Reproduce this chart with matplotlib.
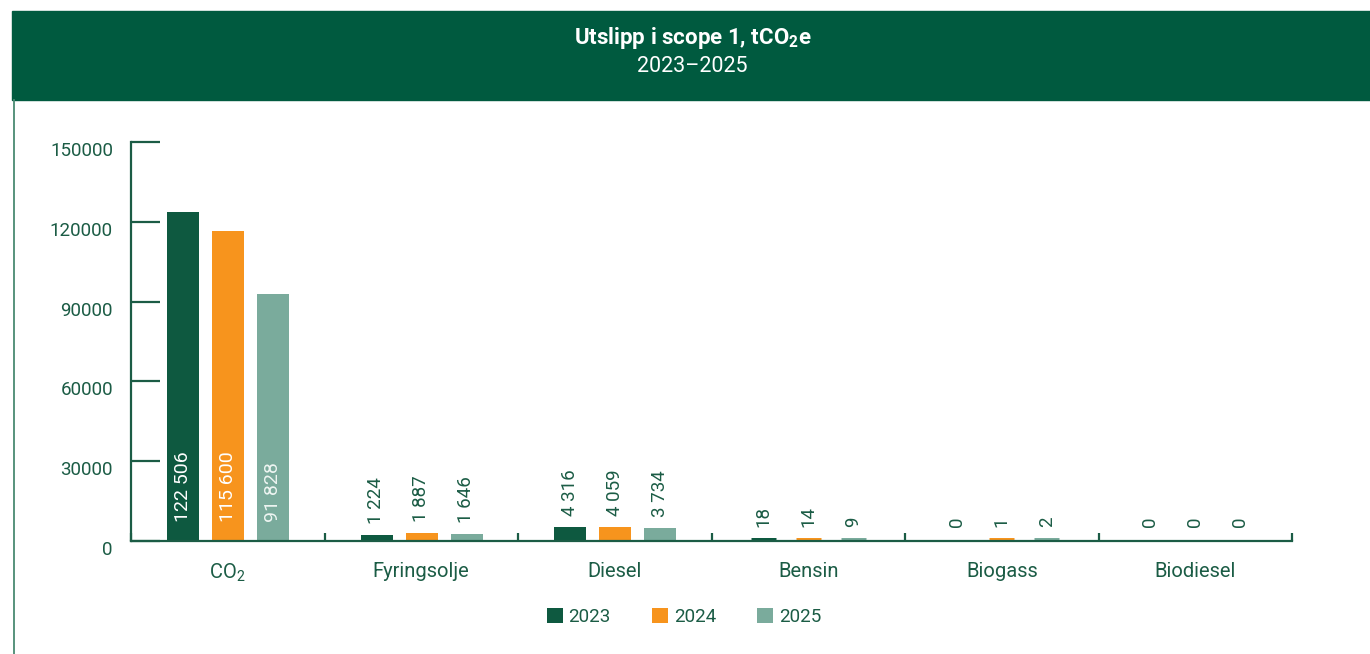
import matplotlib.pyplot as plt
from matplotlib.patches import Rectangle, Patch
from matplotlib.lines import Line2D
from matplotlib.transforms import ScaledTranslation
import numpy as np

# Data
categories = ['CO$_2$', 'Fyringsolje', 'Diesel', 'Bensin', 'Biogass', 'Biodiesel']
years = ['2023', '2024', '2025']
v2023 = [122506, 1224, 4316, 18, 0, 0]
v2024 = [115600, 1887, 4059, 14, 1, 0]
v2025 = [91828, 1646, 3734, 9, 2, 0]
yticks = [0, 30000, 60000, 90000, 120000, 150000]

colors = ['#0e5940', '#f7941d', '#7aab9c']
label_colors = ['white', 'white', '#eef5f2']
dark = '#1b5c45'
header = '#005a3f'

plt.rcParams['font.family'] = ['Roboto', 'DejaVu Sans']
plt.rcParams['mathtext.default'] = 'regular'

W, H = 1370, 654
fig = plt.figure(figsize=(W / 100, H / 100), dpi=100)

# header band and left border line
fig.patches.append(Rectangle((12 / W, 1 - 100 / H), (W - 12) / W, 89 / H,
                             transform=fig.transFigure, color=header, zorder=0))
fig.lines.append(Line2D([13.5 / W, 13.5 / W], [0, 1 - 100 / H],
                        transform=fig.transFigure, color='#4a8a72', lw=1.3))
fig.text(693 / W, 1 - 38 / H, 'Utslipp i scope 1, tCO$_2$e', ha='center', va='center',
         color='white', fontsize=16, fontweight='bold')
fig.text(692 / W, 1 - 67 / H, '2023–2025', ha='center', va='center',
         color='white', fontsize=15.5)

ax = fig.add_axes([131 / W, 113 / H, 1161 / W, 399 / H])
x = np.arange(len(categories))
step = 45 / 193.5
edge_px = 7
face_w = (32 - edge_px) / 193.5

for i, vals in enumerate([v2023, v2024, v2025]):
    xs = x + (i - 1) * step
    lws = [edge_px * 0.72 if v > 0 else 0 for v in vals]
    ax.bar(xs, vals, width=face_w, color=colors[i], edgecolor=colors[i],
           linewidth=lws, joinstyle='miter', zorder=2)
    for xi, v in zip(xs, vals):
        txt = f'{v:,}'.replace(',', ' ')
        if v > 15000:
            ax.annotate(txt, (xi, 0), xytext=(0, 14), textcoords='offset points',
                        rotation=90, ha='center', va='bottom', color=label_colors[i],
                        fontsize=14, zorder=3)
        else:
            ax.annotate(txt, (xi, v), xytext=(0, 10), textcoords='offset points',
                        rotation=90, ha='center', va='bottom', color=dark,
                        fontsize=13.5, zorder=3)

ax.set_xlim(-0.5, len(categories) - 0.5)
ax.set_ylim(0, 150000)
ax.set_yticks(yticks)
ax.set_yticklabels([str(t) for t in yticks])
ax.set_xticks(x)
ax.set_xticklabels(categories)
ax.set_xticks(np.arange(len(categories) + 1) - 0.5, minor=True)

for s in ['top', 'right']:
    ax.spines[s].set_visible(False)
for s in ['left', 'bottom']:
    ax.spines[s].set_color(dark)
    ax.spines[s].set_linewidth(1.6)

ax.tick_params(axis='y', direction='in', length=21, width=1.6, color=dark,
               labelcolor=dark, labelsize=13.5, pad=13)
ax.tick_params(axis='x', which='major', length=0, labelcolor=dark, labelsize=14.5, pad=15)
ax.tick_params(axis='x', which='minor', direction='in', length=6, width=1.6, color=dark)

# y tick labels sit slightly below their ticks in the reference
shift = ScaledTranslation(0, -5 / 72, fig.dpi_scale_trans)
for lab in ax.get_yticklabels():
    lab.set_transform(lab.get_transform() + shift)

handles = [Patch(facecolor=c, edgecolor='none') for c in colors]
fig.legend(handles, years, loc='center', bbox_to_anchor=(684 / W, 1 - 617 / H), ncol=3,
           frameon=False, fontsize=13.5, labelcolor=dark, handlelength=0.85,
           handleheight=0.85, handletextpad=0.3, columnspacing=2.2)

fig.savefig('out.png', dpi=100, facecolor='white')
